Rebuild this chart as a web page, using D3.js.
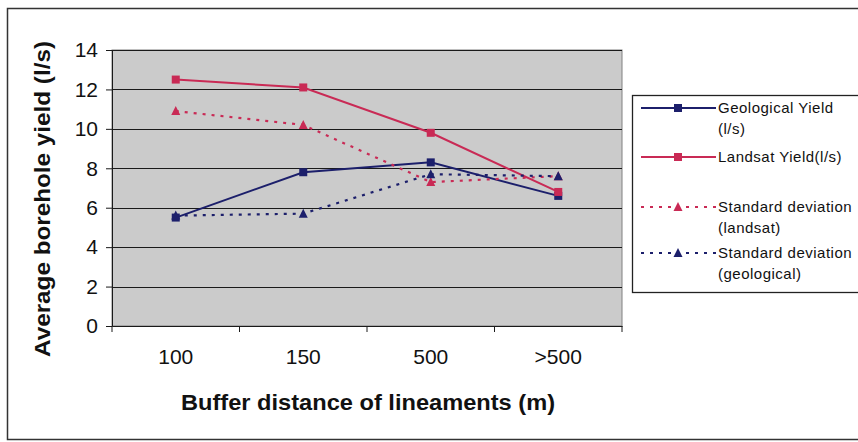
<!DOCTYPE html>
<html><head><meta charset="utf-8">
<script src="https://cdn.jsdelivr.net/npm/d3@7"></script>
<style>body{margin:0;background:#fff;}svg{display:block;font-family:Arial,"Liberation Sans",sans-serif;}</style>
</head><body>
<svg id="c" width="858" height="442"></svg>
<script>
const categories = ["100", "150", "500", ">500"];
const geologicalYield = [5.5, 7.8, 8.3, 6.6];
const landsatYield = [12.5, 12.1, 9.8, 6.8];
const sdLandsat = [10.9, 10.2, 7.3, 7.6];
const sdGeological = [5.6, 5.7, 7.7, 7.6];
const yTicks = [0, 2, 4, 6, 8, 10, 12, 14];
const seriesNames = ["Geological Yield (l/s)", "Landsat Yield(l/s)", "Standard deviation (landsat)", "Standard deviation (geological)"];

const NAVY = "#1c1f6b", RED = "#c92a55";
const series = [
  {name: seriesNames[0], values: geologicalYield, color: NAVY, dash: null, marker: "square", lines: ["Geological Yield", "(l/s)"]},
  {name: seriesNames[1], values: landsatYield, color: RED, dash: null, marker: "square", lines: ["Landsat Yield(l/s)"]},
  {name: seriesNames[2], values: sdLandsat, color: RED, dash: "3,6", marker: "triangle", lines: ["Standard deviation", "(landsat)"]},
  {name: seriesNames[3], values: sdGeological, color: NAVY, dash: "3,6", marker: "triangle", lines: ["Standard deviation", "(geological)"]}
];

const svg = d3.select("#c");
svg.append("rect").attr("x", 7.5).attr("y", 8.5).attr("width", 870).attr("height", 431)
  .attr("fill", "#fff").attr("stroke", "#333").attr("stroke-width", 1.5);

const L = 112, R = 622, T = 50, B = 326;
const x = d3.scaleBand().domain(categories).range([L, R]);
const y = d3.scaleLinear().domain([0, 14]).range([B, T]);

svg.append("rect").attr("x", L).attr("y", T).attr("width", R - L).attr("height", B - T)
  .attr("fill", "#cbcbcb").attr("stroke", "#808080").attr("stroke-width", 1);

svg.append("g").selectAll("line").data(yTicks.filter(d => d > 0)).join("line")
  .attr("x1", L).attr("x2", R).attr("y1", d => Math.round(y(d)) + 0.5).attr("y2", d => Math.round(y(d)) + 0.5)
  .attr("stroke", "#1a1a1a").attr("stroke-width", 1);

const yAxis = svg.append("g").attr("transform", `translate(${L},0)`)
  .call(d3.axisLeft(y).tickValues(yTicks).tickSize(6).tickPadding(8));
yAxis.select(".domain").attr("stroke", "#1a1a1a");
yAxis.selectAll(".tick line").attr("stroke", "#1a1a1a");
yAxis.selectAll(".tick text").attr("font-size", 21).attr("fill", "#111").attr("font-family", "Arial, Liberation Sans, sans-serif");

const xAxis = svg.append("g").attr("transform", `translate(0,${B})`)
  .call(d3.axisBottom(x).tickSize(0).tickPadding(23));
xAxis.select(".domain").attr("stroke", "#1a1a1a");
xAxis.selectAll(".tick text").attr("font-size", 21).attr("fill", "#111").attr("font-family", "Arial, Liberation Sans, sans-serif");
const bounds = categories.map(c => x(c)).concat([x(categories[categories.length - 1]) + x.bandwidth()]);
svg.append("g").selectAll("line").data(bounds).join("line")
  .attr("x1", d => d).attr("x2", d => d).attr("y1", B).attr("y2", B + 6)
  .attr("stroke", "#1a1a1a");

svg.append("text").attr("transform", `translate(50,199) rotate(-90)`)
  .attr("text-anchor", "middle").attr("font-size", 22).attr("font-weight", "bold").attr("fill", "#111")
  .attr("textLength", 316).attr("lengthAdjust", "spacingAndGlyphs")
  .text("Average borehole yield (l/s)");
svg.append("text").attr("x", 368).attr("y", 410).attr("text-anchor", "middle")
  .attr("font-size", 22).attr("font-weight", "bold").attr("fill", "#111")
  .attr("textLength", 374).attr("lengthAdjust", "spacingAndGlyphs")
  .text("Buffer distance of lineaments (m)");

const cx = c => x(c) + x.bandwidth() / 2;
const lineGen = d3.line().x((d, i) => cx(categories[i])).y(d => y(d));

function drawMarker(g, type, px, py, color) {
  if (type === "square") {
    g.append("rect").attr("x", px - 4).attr("y", py - 4).attr("width", 8).attr("height", 8).attr("fill", color);
  } else {
    g.append("path").attr("d", `M${px},${py - 5}L${px + 4.5},${py + 4}L${px - 4.5},${py + 4}Z`).attr("fill", color);
  }
}

series.forEach(s => {
  const g = svg.append("g");
  g.append("path").datum(s.values).attr("d", lineGen).attr("fill", "none")
    .attr("stroke", s.color).attr("stroke-width", s.dash ? 2.2 : 2)
    .attr("stroke-dasharray", s.dash);
  s.values.forEach((v, i) => drawMarker(g, s.marker, cx(categories[i]), y(v), s.color));
});

svg.append("rect").attr("x", 632.5).attr("y", 95.5).attr("width", 240).attr("height", 197)
  .attr("fill", "#fff").attr("stroke", "#222").attr("stroke-width", 1.3);
const legY = [108, 157, 207, 253];
series.forEach((s, i) => {
  const g = svg.append("g");
  const ly = legY[i];
  g.append("line").attr("x1", 641).attr("x2", 716).attr("y1", ly).attr("y2", ly)
    .attr("stroke", s.color).attr("stroke-width", 2).attr("stroke-dasharray", s.dash);
  drawMarker(g, s.marker, 678, ly, s.color);
  s.lines.forEach((t, j) => {
    g.append("text").attr("x", 718).attr("y", ly + 5 + j * 21).attr("font-size", 15)
      .attr("letter-spacing", 0.5).attr("fill", "#111").text(t);
  });
});
</script>
</body></html>
